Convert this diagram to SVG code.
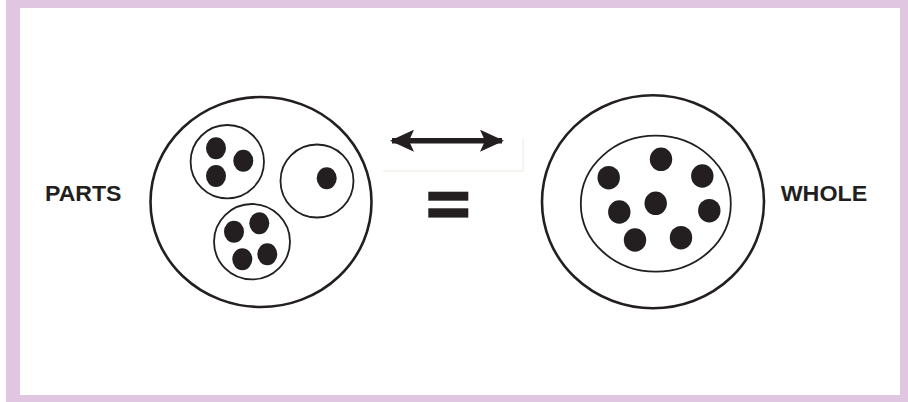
<svg xmlns="http://www.w3.org/2000/svg" width="908" height="402" viewBox="0 0 908 402">
<style>
.frame{fill:#fff;stroke:#e0c6e0;}
.outer{fill:#fff;stroke:#231f20;stroke-width:2.6;}
.inner{fill:none;stroke:#231f20;stroke-width:1.8;}
.dot{fill:#231f20;}
.lbl{font-family:"Liberation Sans",Arial,sans-serif;font-weight:bold;font-size:22px;fill:#231f20;}
.faint{stroke:#f2f2ea;stroke-width:1.5;fill:none;}
</style>
<defs>
<marker id="ah" viewBox="0 0 24 22" refX="22" refY="11" markerWidth="24" markerHeight="22" markerUnits="userSpaceOnUse" orient="auto-start-reverse">
<path d="M0,0 L24,11 L0,22 L5,11 Z" fill="#231f20"/>
</marker>
</defs>
<rect x="0" y="0" width="908" height="402" fill="#fff"/>
<path d="M6,0 H908 V402 H6 Z M20,8 V395 H900 V8 Z" fill="#e0c6e0" fill-rule="evenodd"/>

<g id="parts">
<ellipse class="outer" cx="261" cy="202" rx="110.5" ry="105"/>
<g id="group-three">
<circle class="inner" cx="227.3" cy="161.7" r="36.7"/>
<ellipse class="dot" cx="216" cy="148.3" rx="10" ry="11"/>
<ellipse class="dot" cx="243.3" cy="160.7" rx="10" ry="11"/>
<ellipse class="dot" cx="216" cy="176" rx="10" ry="11"/>
</g>
<g id="group-one">
<circle class="inner" cx="317" cy="181" r="36.5"/>
<ellipse class="dot" cx="326.7" cy="178.3" rx="10" ry="11"/>
</g>
<g id="group-four">
<ellipse class="inner" cx="252" cy="241.7" rx="38" ry="37.7"/>
<ellipse class="dot" cx="234" cy="231.7" rx="10" ry="11"/>
<ellipse class="dot" cx="259.3" cy="223.3" rx="10" ry="11"/>
<ellipse class="dot" cx="242.3" cy="259.3" rx="10" ry="11"/>
<ellipse class="dot" cx="267.3" cy="254.3" rx="10" ry="11"/>
</g>
</g>

<g id="whole">
<ellipse class="outer" cx="653" cy="201.7" rx="111" ry="106.5"/>
<ellipse class="inner" cx="655.8" cy="203.7" rx="75" ry="68"/>
<ellipse class="dot" cx="661" cy="159.3" rx="11.2" ry="11.8"/>
<ellipse class="dot" cx="608.7" cy="177.7" rx="11.2" ry="11.8"/>
<ellipse class="dot" cx="702.3" cy="176" rx="11.2" ry="11.8"/>
<ellipse class="dot" cx="655.7" cy="203.3" rx="11.2" ry="11.8"/>
<ellipse class="dot" cx="619.3" cy="212" rx="11.2" ry="11.8"/>
<ellipse class="dot" cx="709.3" cy="210.7" rx="11.2" ry="11.8"/>
<ellipse class="dot" cx="635" cy="240" rx="11.2" ry="11.8"/>
<ellipse class="dot" cx="681" cy="237.7" rx="11.2" ry="11.8"/>
</g>

<g id="connectors">
<path class="faint" d="M383,171 H523 V139"/>
<line x1="392" y1="140.7" x2="502" y2="140.7" stroke="#231f20" stroke-width="5.5" marker-start="url(#ah)" marker-end="url(#ah)"/>
</g>

<g id="equals">
<rect x="428.3" y="191.7" width="40" height="9" fill="#231f20"/>
<rect x="428.3" y="208.3" width="40" height="9.3" fill="#231f20"/>
</g>

<g id="label-parts">
<text class="lbl" x="45" y="200.7" textLength="76.5" lengthAdjust="spacingAndGlyphs">PARTS</text>
</g>
<g id="label-whole">
<text class="lbl" x="780.7" y="200.7" textLength="86.5" lengthAdjust="spacingAndGlyphs">WHOLE</text>
</g>
</svg>
